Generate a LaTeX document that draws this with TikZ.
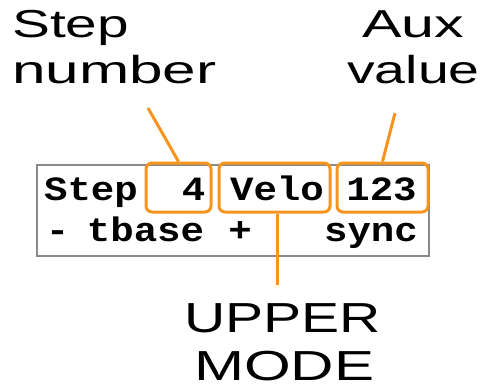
\documentclass[tikz,border=0pt]{standalone}
\usepackage{fontspec}
\usepackage{graphicx}
\newfontfamily\lblfont[FakeStretch=1.38]{Liberation Sans}
\newfontfamily\lcdfont[FakeStretch=1.15]{Liberation Mono}
\definecolor{hl}{HTML}{F7941D}
\definecolor{frame}{HTML}{8A8A8A}
\begin{document}
\begin{tikzpicture}[x=1pt,y=-1pt,
  lbl/.style={inner sep=0pt,anchor=base west,font=\lblfont\fontsize{39}{46}\selectfont},
  lblb/.style={inner sep=0pt,anchor=base west,font=\lblfont\fontsize{42}{48}\selectfont},
  lcd/.style={inner sep=0pt,anchor=base,font=\lcdfont\bfseries\fontsize{34}{40}\selectfont},
  hbox/.style={draw=hl,line width=3pt,rounded corners=6pt,inner sep=0pt,minimum height=49pt},
  conn/.style={draw=hl,line width=3pt}]
\useasboundingbox (0,0) rectangle (484,389);
% display frame
\node[draw=frame,line width=1.5pt,inner sep=0pt,minimum width=392pt,minimum height=91pt] (disp) at (233,210.5) {};
% lcd text, row 1
\node[lcd] (t1) at (91,200) {Step};
\node[lcd] (t2) at (193.5,200) {4};
\node[lcd] (t3) at (277,200) {Velo};
\node[lcd] (t4) at (381.5,200) {123};
% lcd text, row 2
\node[lcd] (u1) at (57.5,241) {-};
\node[lcd] (u2) at (145.5,241) {tbase};
\node[lcd] (u3) at (240,241) {+};
\node[lcd] (u4) at (371,241) {sync};
% highlight boxes
\node[hbox,minimum width=65pt] (bstep) at (178.5,187.5) {};
\node[hbox,minimum width=111pt] (bmode) at (274.5,187.5) {};
\node[hbox,minimum width=91pt] (baux) at (382.5,187.5) {};
% labels
\node[lbl] (l1) at (12,37) {\scalebox{1.055}[1]{Step}};
\node[lbl] (l2) at (12,83) {\scalebox{1.12}[1]{number}};
\node[lbl] (l3) at (362,37) {\scalebox{1.10}[1]{Aux}};
\node[lbl] (l4) at (347,83) {\scalebox{1.03}[1]{value}};
\node[lblb] (l5) at (184,332) {\scalebox{0.985}[1]{UPPER}};
\node[lblb] (l6) at (194,380) {\scalebox{1.036}[1]{MODE}};
% connector ends
\coordinate (cs) at (148,108);
\coordinate (ca) at (395,113);
\coordinate (cm) at (277,285);
\draw[conn] (cs) -- (bstep.north);
\draw[conn] (ca) -- (baux.north);
\draw[conn] (bmode.south -| cm) -- (cm);
\end{tikzpicture}
\end{document}
